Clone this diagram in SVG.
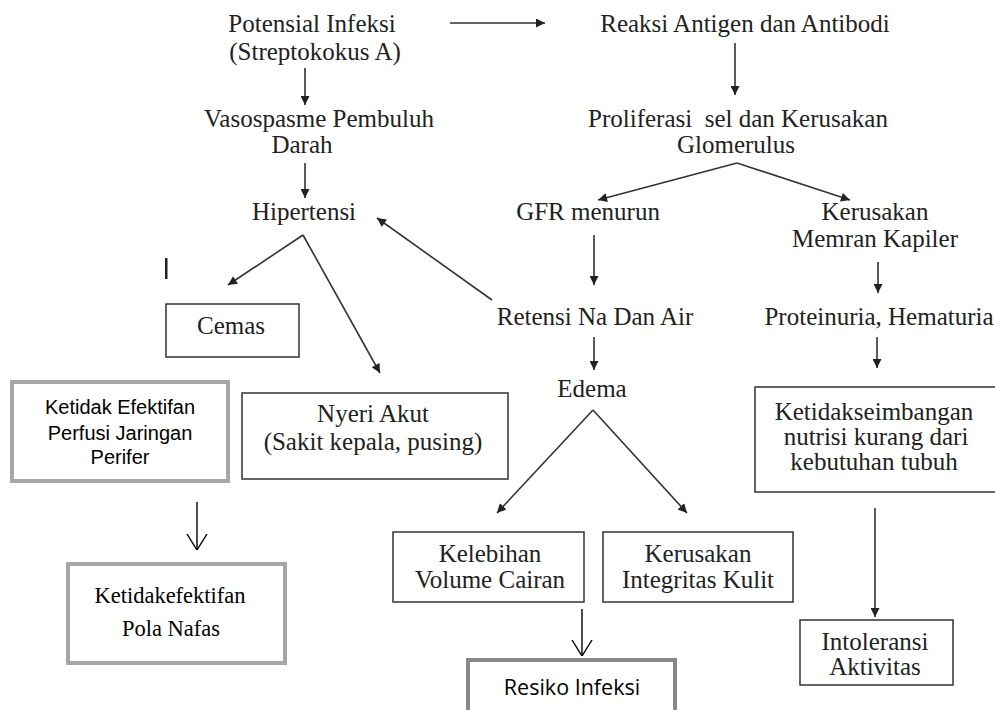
<svg xmlns="http://www.w3.org/2000/svg" width="995" height="710" viewBox="0 0 995 710">
<style>
.t{font-family:'Liberation Serif','DejaVu Serif',serif;font-size:25px;fill:#222;text-anchor:middle}
.tn{font-family:'Liberation Serif','DejaVu Serif',serif;font-size:22.5px;fill:#000;text-anchor:middle}
.s{font-family:'Liberation Sans',Arial,sans-serif;font-size:20px;fill:#000;text-anchor:middle}
.o{font-family:'Open Sans','Liberation Sans',sans-serif;font-size:21.5px;fill:#000;text-anchor:middle}
.box{fill:#fff;stroke:#333;stroke-width:1.5}
.gbox{fill:#fff;stroke:#a6a6a6;stroke-width:4}
.dbox{fill:#fff;stroke:#888;stroke-width:4}
.c{fill:none;stroke:#333;stroke-width:1.6}
.ca{marker-end:url(#ah)}
.co{fill:none;stroke:#000;stroke-width:1.4;marker-end:url(#oh)}
</style>
<defs>
<marker id="ah" viewBox="0 0 10 10" refX="10" refY="5" markerWidth="11" markerHeight="9" markerUnits="userSpaceOnUse" orient="auto">
<path d="M0,0 L10,5 L0,10 Z" fill="#222"/>
</marker>
<marker id="oh" viewBox="0 0 16 22" refX="16" refY="11" markerWidth="16" markerHeight="22" markerUnits="userSpaceOnUse" orient="auto">
<path d="M0,1 L16,11 L0,21" fill="none" stroke="#000" stroke-width="1.4"/>
</marker>
</defs>
<rect width="995" height="710" fill="#fff"/>

<g id="connectors">
<path class="c ca" d="M450,23 L545,23"/>
<path class="c ca" d="M305,68 L305,105"/>
<path class="c ca" d="M305,163 L305,198"/>
<path class="c ca" d="M735,43 L735,95"/>
<path class="c ca" d="M737,163 L598,200"/>
<path class="c ca" d="M737,163 L850,200"/>
<path class="c ca" d="M594,235 L594,285"/>
<path class="c ca" d="M492,300 L377,218"/>
<path class="c ca" d="M303,235 L228,285"/>
<path class="c ca" d="M303,235 L380,373"/>
<path class="c ca" d="M594,337 L594,370"/>
<path class="c ca" d="M593,410 L497,513"/>
<path class="c ca" d="M593,410 L687,513"/>
<path class="c ca" d="M878,262 L878,293"/>
<path class="c ca" d="M877,337 L877,368"/>
<path class="c ca" d="M875,508 L875,617"/>
<path class="co" d="M197,502 L197,550"/>
<path class="co" d="M582,609 L582,656"/>
</g>

<rect x="165" y="258" width="2.5" height="21" fill="#222"/>

<g id="potensial">
<text class="t" x="312" y="32">Potensial Infeksi</text>
<text class="t" x="315" y="60">(Streptokokus A)</text>
</g>
<g id="vasospasme">
<text class="t" x="319" y="127">Vasospasme Pembuluh</text>
<text class="t" x="302" y="153">Darah</text>
</g>
<g id="hipertensi">
<text class="t" x="304" y="220">Hipertensi</text>
</g>
<g id="reaksi">
<text class="t" x="745" y="32">Reaksi Antigen dan Antibodi</text>
</g>
<g id="proliferasi">
<text class="t" x="738" y="127" style="white-space:pre">Proliferasi  sel dan Kerusakan</text>
<text class="t" x="736" y="153">Glomerulus</text>
</g>
<g id="gfr">
<text class="t" x="588" y="220">GFR menurun</text>
</g>
<g id="kerusakan-kapiler">
<text class="t" x="875" y="220">Kerusakan</text>
<text class="t" x="875" y="247">Memran Kapiler</text>
</g>
<g id="retensi">
<text class="t" x="595" y="325">Retensi Na Dan Air</text>
</g>
<g id="proteinuria">
<text class="t" x="879" y="325">Proteinuria, Hematuria</text>
</g>
<g id="edema">
<text class="t" x="592" y="397">Edema</text>
</g>
<g id="cemas">
<rect class="box" x="166" y="304" width="133" height="53"/>
<text class="t" x="231" y="334">Cemas</text>
</g>
<g id="perfusi">
<rect class="gbox" x="12" y="382" width="216" height="99"/>
<text class="s" x="120" y="414">Ketidak Efektifan</text>
<text class="s" x="120" y="440">Perfusi Jaringan</text>
<text class="s" x="120" y="464">Perifer</text>
</g>
<g id="nyeri">
<rect class="box" x="242" y="393" width="266" height="86"/>
<text class="t" x="373" y="422">Nyeri Akut</text>
<text class="t" x="373" y="450">(Sakit kepala, pusing)</text>
</g>
<g id="nutrisi">
<rect class="box" x="755" y="387" width="250" height="105"/>
<text class="t" x="874" y="420">Ketidakseimbangan</text>
<text class="t" x="876" y="445">nutrisi kurang dari</text>
<text class="t" x="874" y="470">kebutuhan tubuh</text>
</g>
<g id="pola-nafas">
<rect class="gbox" x="68" y="564" width="217" height="99"/>
<text class="tn" x="170" y="603">Ketidakefektifan</text>
<text class="tn" x="171" y="636">Pola Nafas</text>
</g>
<g id="kelebihan">
<rect class="box" x="393" y="532" width="191" height="70"/>
<text class="t" x="490" y="562">Kelebihan</text>
<text class="t" x="490" y="588">Volume Cairan</text>
</g>
<g id="integritas">
<rect class="box" x="603" y="532" width="190" height="70"/>
<text class="t" x="698" y="562">Kerusakan</text>
<text class="t" x="698" y="588">Integritas Kulit</text>
</g>
<g id="resiko">
<rect class="dbox" x="468" y="660" width="207" height="70"/>
<text class="o" x="572" y="695">Resiko Infeksi</text>
</g>
<g id="intoleransi">
<rect class="box" x="800" y="620" width="153" height="65"/>
<text class="t" x="875" y="650">Intoleransi</text>
<text class="t" x="875" y="675">Aktivitas</text>
</g>
</svg>
